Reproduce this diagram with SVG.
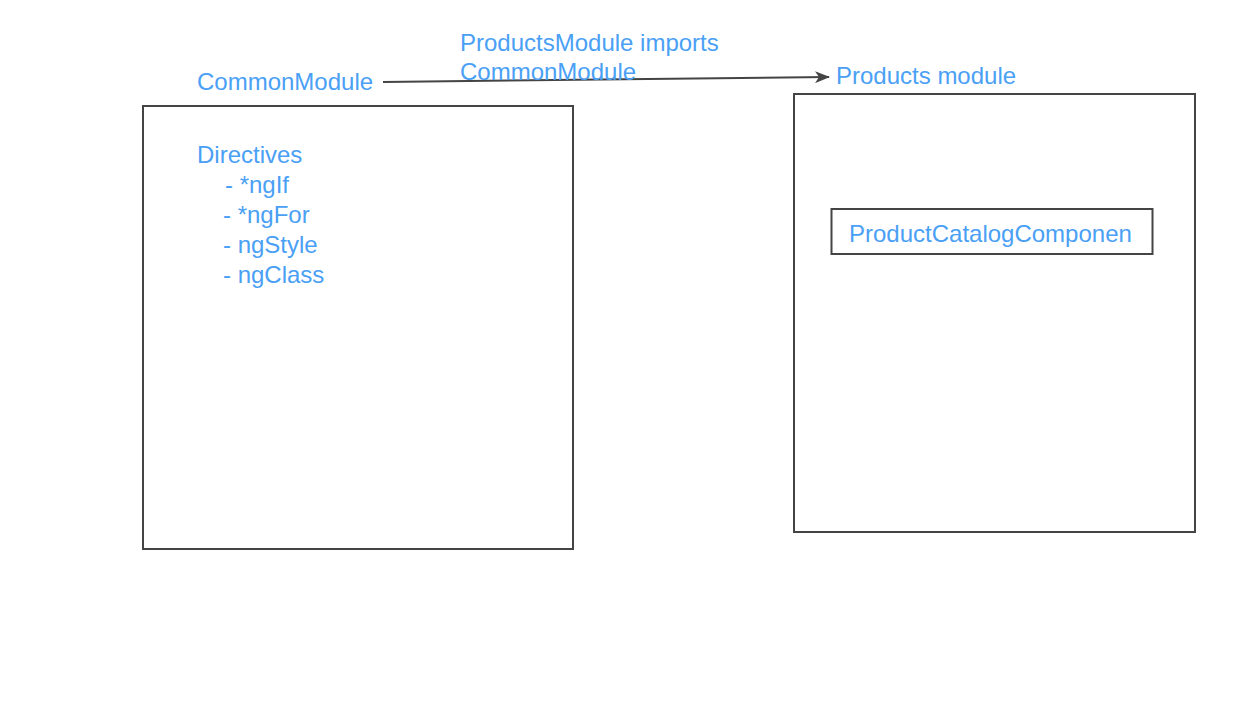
<svg xmlns="http://www.w3.org/2000/svg" width="1258" height="714" viewBox="0 0 1258 714">
<style>
.box{fill:none;stroke:#444;stroke-width:2}
.t{font-family:"Liberation Sans",Arial,sans-serif;font-size:24px;fill:#4aa0f5}
.c{stroke:#444;stroke-width:2;fill:none}
</style>
<defs>
<marker id="ah" markerWidth="15" markerHeight="12" refX="14" refY="6" orient="auto" markerUnits="userSpaceOnUse">
<path d="M0,0 L15,6 L0,12 L4,6 Z" fill="#444"/>
</marker>
</defs>
<rect width="1258" height="714" fill="#fff"/>
<g id="common-module">
<rect class="box" x="143" y="106" width="430" height="443"/>
<text class="t" x="197" y="90">CommonModule</text>
<text class="t" x="197" y="163">Directives</text>
<text class="t" x="225" y="193">- *ngIf</text>
<text class="t" x="223" y="223">- *ngFor</text>
<text class="t" x="223" y="253">- ngStyle</text>
<text class="t" x="223" y="283">- ngClass</text>
</g>
<g id="products-module">
<rect class="box" x="794" y="94" width="401" height="438"/>
<text class="t" x="836" y="84">Products module</text>
</g>
<g id="product-catalog">
<rect class="box" x="831.5" y="209" width="321" height="45"/>
<text class="t" x="849" y="242">ProductCatalogComponen</text>
</g>
<g id="connectors">
<line class="c" x1="383" y1="82" x2="829" y2="77" marker-end="url(#ah)"/>
<text class="t" x="460" y="51">ProductsModule imports</text>
<text class="t" x="460" y="80">CommonModule</text>
</g>
</svg>
